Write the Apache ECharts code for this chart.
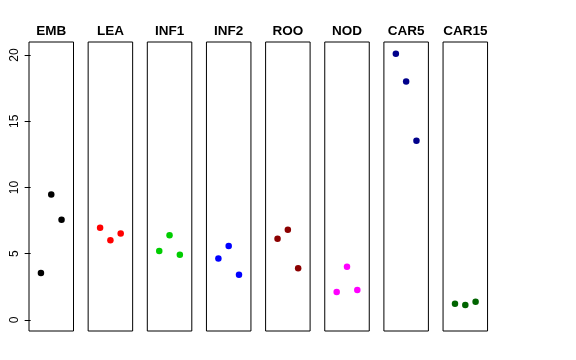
<!DOCTYPE html>
<html>
<head>
<meta charset="utf-8">
<script src="https://cdn.jsdelivr.net/npm/echarts@6/dist/echarts.min.js"></script>
<style>html,body{margin:0;padding:0;background:#fff}#c{width:576px;height:360px}</style>
</head>
<body>
<div id="c"></div>
<script>
const panels = ["EMB","LEA","INF1","INF2","ROO","NOD","CAR5","CAR15"];
const colors = ["#000000","#FF0000","#00CD00","#0000FF","#8B0000","#FF00FF","#00008B","#006400"];
const EMB = [3.55, 9.48, 7.57];
const LEA = [6.97, 6.01, 6.52];
const INF1 = [5.21, 6.39, 4.93];
const INF2 = [4.65, 5.58, 3.42];
const ROO = [6.14, 6.82, 3.90];
const NOD = [2.11, 4.02, 2.26];
const CAR5 = [20.1, 17.99, 13.53];
const CAR15 = [1.23, 1.13, 1.38];
const yTicks = [0, 5, 10, 15, 20];
const values = [EMB, LEA, INF1, INF2, ROO, NOD, CAR5, CAR15];

const grids = [], xAxes = [], yAxes = [], series = [], titles = [];
const left0 = 29, step = 59.15, w = 44.5;
panels.forEach((name, i) => {
  const l = left0 + i * step;
  grids.push({left: l, top: 42, width: w, height: 289, show: true, borderColor: '#000', borderWidth: 1, backgroundColor: 'transparent'});
  xAxes.push({gridIndex: i, type: 'value', min: -0.16, max: 4.16, show: false});
  yAxes.push({
    gridIndex: i, type: 'value', min: -0.83, max: 20.98, show: i === 0, offset: 2,
    splitLine: {show: false},
    axisLine: {show: false},
    axisTick: {show: true, length: 6, lineStyle: {color: '#000'}, customValues: yTicks},
    axisLabel: {show: true, rotate: 90, color: '#000', fontSize: 12, fontFamily: 'Liberation Sans, Arial, sans-serif', margin: 6, customValues: yTicks}
  });
  series.push({
    type: 'scatter', xAxisIndex: i, yAxisIndex: i, symbol: 'circle', symbolSize: 6.5,
    itemStyle: {color: colors[i], opacity: 1},
    data: values[i].map((v, j) => [j + 1, v]),
    silent: true
  });
  titles.push({
    text: name, left: l + w / 2, top: 24, textAlign: 'center', padding: 0,
    textStyle: {fontSize: 13.5, fontWeight: 'bold', color: '#000', fontFamily: 'Liberation Sans, Arial, sans-serif'}
  });
});

const chart = echarts.init(document.getElementById('c'), null, {renderer: 'canvas'});
chart.setOption({
  animation: false,
  backgroundColor: '#fff',
  title: titles,
  grid: grids,
  xAxis: xAxes,
  yAxis: yAxes,
  series: series
});
</script>
</body>
</html>
